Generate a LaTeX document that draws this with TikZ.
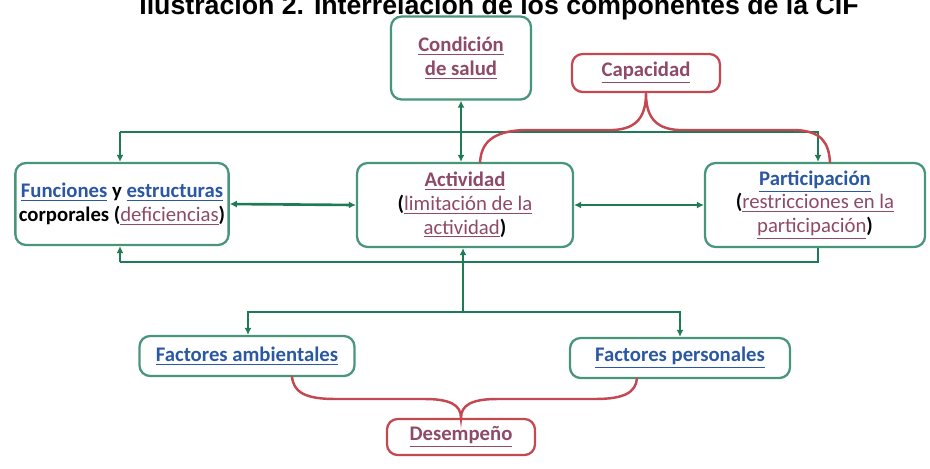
\documentclass[tikz,border=0pt]{standalone}
\usepackage{fontspec}
\setmainfont{Carlito}
\newfontfamily\titulofont{Liberation Sans}
\usetikzlibrary{arrows.meta}

\definecolor{verdecaja}{RGB}{72,150,122}
\definecolor{verdelinea}{RGB}{31,122,86}
\definecolor{rojo}{RGB}{196,72,82}
\definecolor{azul}{RGB}{43,88,165}
\definecolor{malva}{RGB}{142,74,104}

\newcommand{\tazul}[1]{\textcolor{azul}{\underline{\textbf{#1}}}}
\newcommand{\tmalva}[1]{\textcolor{malva}{\underline{\textbf{#1}}}}
\newcommand{\nmalva}[1]{\textcolor{malva}{\underline{#1}}}

\tikzset{
	caja/.style={draw=verdecaja, line width=1.3pt, rounded corners=6pt, fill=white, align=center, inner sep=2pt},
	cajaroja/.style={caja, draw=rojo},
	enlace/.style={draw=verdelinea, line width=1.5pt},
	flecha/.style={enlace, -{Latex[length=4pt,width=4pt]}},
	dobleflecha/.style={enlace, {Latex[length=4pt,width=4pt]}-{Latex[length=4pt,width=4pt]}},
	llave/.style={draw=rojo, line width=1.4pt}
}

\begin{document}
\begin{tikzpicture}[x=0.02cm, y=-0.02cm, font=\fontsize{11.8}{13.5}\selectfont]
	
	\useasboundingbox (0,0) rectangle (930,468);
	
	\node[anchor=base] (titulo) at (499,14) {\titulofont\bfseries\fontsize{15.2}{18}\selectfont Ilustración 2. Interrelación de los componentes de la CIF};
	
	% cajas
	\node[caja, minimum width=2.8cm, minimum height=1.66cm] (salud) at (461,58) {\tmalva{Condición}\\ \tmalva{de salud}};
	\node[cajaroja, minimum width=2.96cm, minimum height=0.76cm] (capac) at (646,73) {\tmalva{Capacidad}};
	\node[caja, minimum width=4.2cm, minimum height=1.64cm] (func) at (122,204) {\tazul{Funciones} \textbf{y} \tazul{estructuras}\\ \textbf{corporales (}\nmalva{deficiencias}\textbf{)}};
	\node[caja, minimum width=4.32cm, minimum height=1.68cm] (activ) at (465,205) {\tmalva{Actividad}\\ \textbf{(}\nmalva{limitación de la}\\ \nmalva{actividad}\textbf{)}};
	\node[caja, minimum width=4.4cm, minimum height=1.68cm] (partic) at (815,205) {\tazul{Participación}\\ \textbf{(}\nmalva{restricciones en la}\\ \nmalva{participación}\textbf{)}};
	\node[caja, minimum width=4.3cm, minimum height=0.8cm] (famb) at (247,356) {\tazul{Factores ambientales}};
	\node[caja, minimum width=4.4cm, minimum height=0.8cm] (fpers) at (680,358) {\tazul{Factores personales}};
	\node[cajaroja, minimum width=2.96cm, minimum height=0.72cm] (desemp) at (461,437) {\tmalva{Desempeño}};
	
	% conexiones
	\coordinate (arrI) at (120,132);
	\coordinate (arrD) at (818,132);
	\coordinate (abaI) at (120,262);
	\coordinate (abaD) at (818,262);
	\coordinate (cruce) at (463,312);
	\coordinate (ramI) at (248,312);
	\coordinate (ramD) at (680,312);
	
	\draw[flecha] (arrI) -- (arrD) -- (arrD |- partic.north);
	\draw[flecha] (arrI) -- (arrI |- func.north);
	\draw[dobleflecha] (salud.south) -- (salud.south |- activ.north);
	\draw[dobleflecha] (func.east) -- (activ.west);
	\draw[dobleflecha] (activ.east) -- (partic.west);
	\draw[enlace] (partic.south -| abaD) -- (abaD) -- (abaI);
	\draw[flecha] (abaI) -- (abaI |- func.south);
	\draw[flecha] (cruce) -- (cruce |- activ.south);
	\draw[flecha] (cruce) -- (ramI) -- (ramI |- famb.north);
	\draw[flecha] (cruce) -- (ramD) -- (ramD |- fpers.north);
	
	% llaves
	\coordinate (capI) at (480,163);
	\coordinate (capD) at (830,163);
	\coordinate (desI) at (292,376);
	\coordinate (desD) at (637,378);
	
	\draw[llave] (capI) .. controls (481,143) and (492,131) .. (525,130) -- (613,130) .. controls (638,129) and (646,115) .. (capac.south) .. controls (646,115) and (654,129) .. (679,130) -- (795,130) .. controls (822,131) and (829,143) .. (capD);
	\draw[llave] (desI) .. controls (293,392) and (305,399) .. (335,399) -- (425,399) .. controls (450,399) and (461,405) .. (desemp.north) .. controls (461,405) and (472,399) .. (497,399) -- (595,399) .. controls (625,399) and (636,392) .. (desD);
	
\end{tikzpicture}
\end{document}
